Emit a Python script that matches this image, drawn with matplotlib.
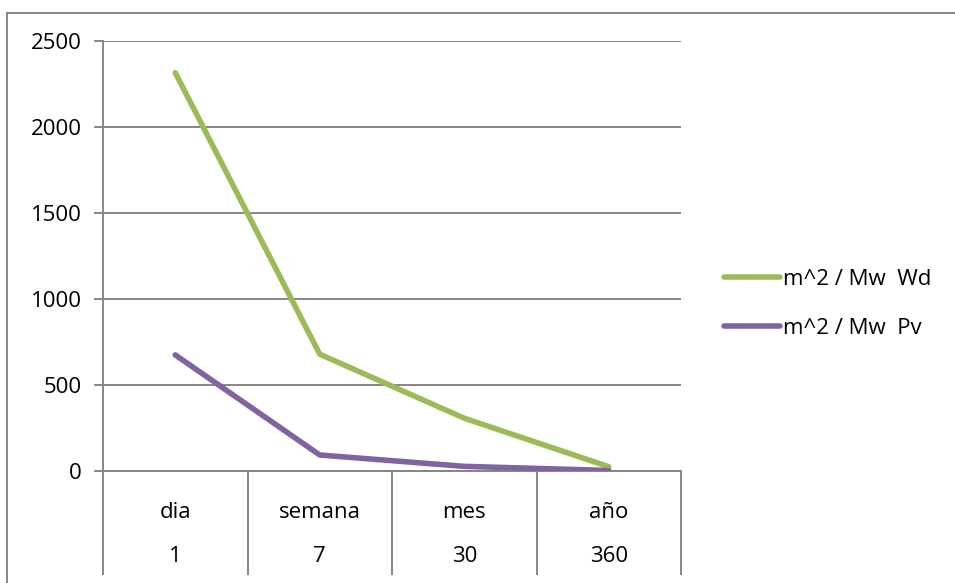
import matplotlib.pyplot as plt
from matplotlib.lines import Line2D
from matplotlib.transforms import blended_transform_factory

# periodos y dias de cada periodo
periodos = ['dia', 'semana', 'mes', 'año']
dias = ['1', '7', '30', '360']

# superficie por potencia para cada tecnologia
wd = [2316, 679, 307, 25]
pv = [675, 93, 27, 3]

verde = '#9BBB59'
morado = '#8064A2'
gris = '#868686'

plt.rcParams['font.family'] = ['Open Sans', 'DejaVu Sans']

fig = plt.figure(figsize=(9.55, 5.83), dpi=100)
ax = fig.add_axes([103 / 955, 1 - 471 / 583, 578 / 955, 430 / 583])

x = list(range(len(periodos)))
ax.plot(x, wd, color=verde, lw=4, solid_capstyle='round', solid_joinstyle='round',
        label='m^2 / Mw  Wd', zorder=3)
ax.plot(x, pv, color=morado, lw=4, solid_capstyle='round', solid_joinstyle='round',
        label='m^2 / Mw  Pv', zorder=3)

ax.set_xlim(-0.5, len(periodos) - 0.5)
ax.set_ylim(0, 2500)
ax.set_yticks(range(0, 2501, 500))
ax.yaxis.grid(True, color=gris, lw=1.4)
ax.set_axisbelow(True)

for lado in ['top', 'right']:
    ax.spines[lado].set_visible(False)
for lado in ['left', 'bottom']:
    ax.spines[lado].set_color(gris)
    ax.spines[lado].set_linewidth(1.4)

ax.tick_params(axis='y', length=6.5, width=1.4, color=gris, pad=9, labelsize=16)

# separadores del eje de categorias (dos niveles)
ax.set_xticks([i - 0.5 for i in range(len(periodos) + 1)])
ax.set_xticklabels([])
ax.tick_params(axis='x', length=75, width=1.4, color=gris)

tr = blended_transform_factory(ax.transData, ax.transAxes)
for i, (p, d) in enumerate(zip(periodos, dias)):
    ax.text(i, -41 / 430, p, transform=tr, ha='center', va='center', fontsize=16)
    ax.text(i, -85 / 430, d, transform=tr, ha='center', va='center', fontsize=16)

# marco del grafico
fig.add_artist(Line2D([7 / 955, 7 / 955], [0, 1 - 13 / 583], color=gris, lw=1.4))
fig.add_artist(Line2D([7 / 955, 1], [1 - 13 / 583, 1 - 13 / 583], color=gris, lw=1.4))

ax.legend(loc='center left', bbox_to_anchor=(704 / 955, 1 - 304 / 583),
          bbox_transform=fig.transFigure, frameon=False, fontsize=16,
          handlelength=2.5, handletextpad=0.15, labelspacing=1.25)

fig.savefig('out.png', dpi=100)
